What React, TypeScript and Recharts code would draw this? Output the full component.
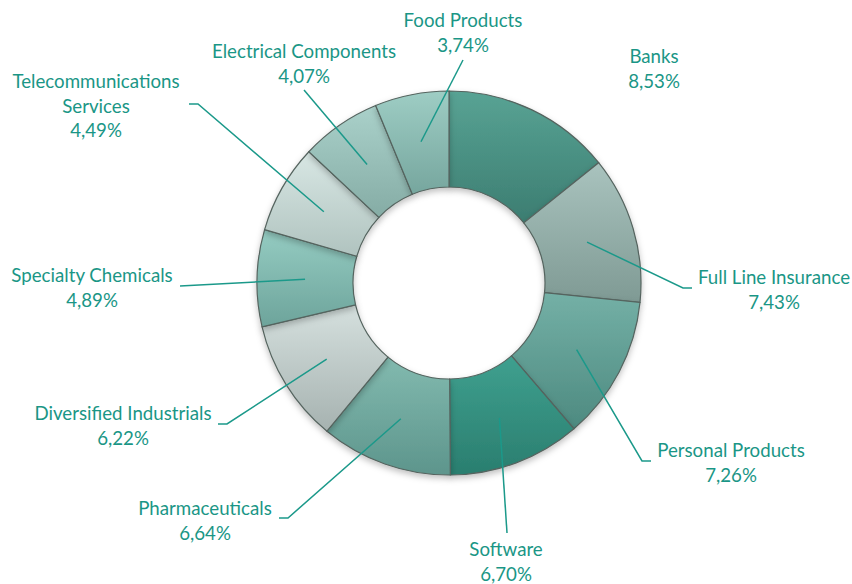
import { PieChart, Pie, Cell } from 'recharts'

// sector weights in the portfolio (%)
const sectors = [
  'Banks',
  'Full Line Insurance',
  'Personal Products',
  'Software',
  'Pharmaceuticals',
  'Diversified Industrials',
  'Specialty Chemicals',
  'Telecommunications Services',
  'Electrical Components',
  'Food Products'
]
const weights = [8.53, 7.43, 7.26, 6.7, 6.64, 6.22, 4.89, 4.49, 4.07, 3.74]

// gradient stops per slice: [top, bottom]
const sliceColors = [
  ['#58a394', '#3c7d71'],
  ['#a9c3be', '#7f9a94'],
  ['#74b0a6', '#4d8a80'],
  ['#3fa08f', '#2a7e6f'],
  ['#82baaf', '#5d958c'],
  ['#d5e0de', '#a6b2b0'],
  ['#95ccc2', '#6da49b'],
  ['#d8e7e4', '#b0c3bf'],
  ['#aad1ca', '#85aca5'],
  ['#9ecdc4', '#76a69e']
]

// manual label placement (relative to pie centre), like the original chart
const labelLayout: { text: number[]; end?: number[]; elbow?: number }[] = [
  { text: [205, -215] },
  { text: [325, 6], end: [243, 5], elbow: 9 },
  { text: [282, 179], end: [202, 178], elbow: 9 },
  { text: [57, 278], end: [58, 250] },
  { text: [-244, 237], end: [-170, 235], elbow: 9 },
  { text: [-326, 142], end: [-231, 141], elbow: 9 },
  { text: [-357, 4], end: [-269, 3] },
  { text: [-353, -178], end: [-260, -179], elbow: 9 },
  { text: [-145, -220], end: [-145, -193] },
  { text: [14, -251], end: [14, -223] }
]

const data = sectors.map((name, i) => ({ name, value: weights[i] }))

const TEAL = '#1a9686'
const FONT = 18.7
const LINE = 24.6
const RAD = Math.PI / 180

function splitName(name: string) {
  if (name.length <= 24) return [name]
  const i = name.lastIndexOf(' ')
  return [name.slice(0, i), name.slice(i + 1)]
}

function renderLabel(props: any) {
  const { cx, cy, midAngle, innerRadius, outerRadius, index, value } = props
  const layout = labelLayout[index]
  const r = (innerRadius + outerRadius) / 2
  const sx = cx + r * Math.cos(-midAngle * RAD)
  const sy = cy + r * Math.sin(-midAngle * RAD)
  const lines = [...splitName(sectors[index]), `${value.toFixed(2).replace('.', ',')}%`]
  const tx = cx + layout.text[0]
  const ty = cy + layout.text[1]
  let path = null
  if (layout.end) {
    const ex = cx + layout.end[0]
    const ey = cy + layout.end[1]
    const dir = layout.end[0] < 0 ? 1 : -1
    const bx = layout.elbow ? ex + dir * layout.elbow : ex
    path = `M${sx},${sy}L${bx},${ey}L${ex},${ey}`
  }
  return (
    <g key={`lbl-${index}`}>
      {path && <path d={path} stroke="#1b998a" strokeWidth={1.5} fill="none" />}
      <text
        x={tx}
        textAnchor="middle"
        fill={TEAL}
        fontSize={FONT}
        fontFamily="Lato, 'Open Sans', sans-serif"
      >
        {lines.map((l, i) => (
          <tspan key={i} x={tx} y={ty + (i - (lines.length - 1) / 2) * LINE + 7.5}>
            {l}
          </tspan>
        ))}
      </text>
    </g>
  )
}

export default function App() {
  return (
    <div style={{ position: 'absolute', left: 0, top: 0, background: '#fff' }}>
      <PieChart width={852} height={584} margin={{ top: 0, right: 0, bottom: 0, left: 0 }}>
        <defs>
          {sliceColors.map((c, i) => (
            <linearGradient key={i} id={`slice${i}`} x1="0" y1="0" x2="0" y2="1">
              <stop offset="0%" stopColor={c[0]} />
              <stop offset="100%" stopColor={c[1]} />
            </linearGradient>
          ))}
          <filter id="ringShadow" x="-20%" y="-20%" width="140%" height="140%">
            <feDropShadow dx="0" dy="3" stdDeviation="3" floodColor="#000" floodOpacity="0.25" />
          </filter>
        </defs>
        <Pie
          data={data}
          dataKey="value"
          nameKey="name"
          cx={449}
          cy={283}
          innerRadius={96}
          outerRadius={192}
          startAngle={90}
          endAngle={-270}
          stroke="#55645f"
          strokeWidth={1.2}
          label={renderLabel}
          labelLine={false}
          isAnimationActive={false}
          style={{ filter: 'url(#ringShadow)' }}
        >
          {data.map((d, i) => (
            <Cell key={d.name} fill={`url(#slice${i})`} />
          ))}
        </Pie>
      </PieChart>
    </div>
  )
}
